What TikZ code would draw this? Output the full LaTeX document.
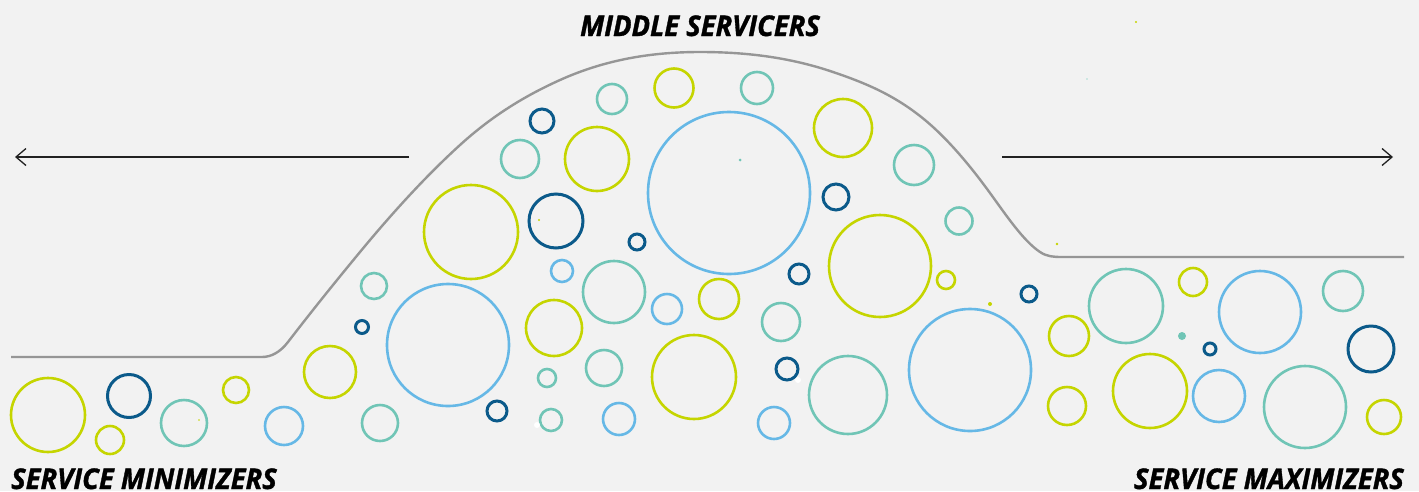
\documentclass[tikz,border=0pt]{standalone}
\usepackage{fontspec}
\setmainfont{Open Sans}
\newfontfamily\lblfont[FakeStretch=0.96,FakeBold=1.2]{Open Sans}
\usetikzlibrary{arrows.meta}

\definecolor{bgc}{HTML}{F2F2F2}
\definecolor{lime}{HTML}{C5D500}
\definecolor{teal}{HTML}{70C5B6}
\definecolor{sky}{HTML}{66B8E6}
\definecolor{navy}{HTML}{0B5A8A}
\definecolor{ridge}{HTML}{969696}
\definecolor{ink}{HTML}{222222}

\begin{document}
\begin{tikzpicture}[x=1pt,y=-1pt,
  ring/.style={line width=2.6pt},
  lring/.style={ring,draw=lime},
  tring/.style={ring,draw=teal},
  sring/.style={ring,draw=sky},
  nring/.style={line width=3pt,draw=navy},
  arr/.style={draw=ink,line width=1.3pt,-{Straight Barb[length=10pt,width=17pt,line width=1.3pt]}},
  lbl/.style={font=\lblfont\fontsize{28.5}{30}\selectfont\bfseries\itshape,text=black,inner sep=0pt}]

% canvas
\fill[bgc] (0,0) rectangle (1419,491);
\useasboundingbox (0,0) rectangle (1419,491);

% distribution curve: low plateau, broad hump, high plateau
\draw[ridge,line width=2.4pt,line join=round]
  (11,357) -- (262,357)
  .. controls (271,357) and (280,352.4) .. (288,342)
  .. controls (312,310.8) and (336,281) .. (360,252)
  .. controls (393.3,211.7) and (426.7,175.3) .. (460,145)
  .. controls (493.3,114.7) and (526.7,95) .. (560,80)
  .. controls (606.7,59) and (653.3,52) .. (700,52)
  .. controls (744.3,52) and (788.7,56.9) .. (833,72)
  .. controls (866.3,83.3) and (899.7,96.7) .. (933,127)
  .. controls (952,144.3) and (971,166.8) .. (990,193)
  .. controls (1006.7,216) and (1023.3,240.8) .. (1040,252)
  .. controls (1047,256.7) and (1054,257) .. (1062,257)
  -- (1404,257);

% direction arrows
\coordinate (lfrom) at (409,157);
\coordinate (lto) at (15,157);
\coordinate (rfrom) at (1002,157);
\coordinate (rto) at (1393,157);
\draw[arr] (lfrom) -- (lto);
\draw[arr] (rfrom) -- (rto);

% lime bubbles
\foreach \x/\y/\r in {48/415/37,110/440/14,236/390/13,330/372/26,471/232/47,
  597/159/32,674/88/19.5,843/128/29,880/266/51,946/280/9,554/328/28,
  719/299/20,694/377/42,1069/336/20,1193/282/14,1067/406/19,1150/391/37,
  1384/417/17}
  \draw[lring] (\x,\y) circle[radius=\r pt];

% teal bubbles
\foreach \x/\y/\r in {184/423/23,380/423/18,374/286/13,520/159/19,612/99/15,
  757/88/16,914/165/20,959/221/13.5,614/292/31,781/322/19,604/368/18,
  547/378/9,848/395/39,551/420/11,1126/306/37,1343/291/20,1305/407/41}
  \draw[tring] (\x,\y) circle[radius=\r pt];

% sky-blue bubbles
\foreach \x/\y/\r in {284/426/19,448/345/61,729/193/81,562/271/11,667/309/15,
  970/370/61,619/419/16,774/423/16,1260/312/41,1219/396/26}
  \draw[sring] (\x,\y) circle[radius=\r pt];

% navy bubbles
\foreach \x/\y/\r in {129/396/21.5,362/327/6.5,542/121/12,556/221/27,637/242/8,
  836/197/13,799/274/10,787/369/11,497/411/10,1029/294/8,1210/349/6,1371/349/23}
  \draw[nring] (\x,\y) circle[radius=\r pt];

% specks
\fill[teal] (740,160) circle[radius=1.5pt];
\fill[teal] (1182,336) circle[radius=4pt];
\fill[teal!60] (1087,79) circle[radius=0.8pt];
\fill[lime] (539,220) circle[radius=1.2pt];
\fill[lime] (1136,22) circle[radius=1.2pt];
\fill[lime] (1057,244) circle[radius=1.3pt];
\fill[lime] (990,304) circle[radius=2pt];
\fill[lime] (199,420) circle[radius=0.8pt];
\fill[white] (537,425) circle[radius=3pt];
\fill[white] (798,380) circle[radius=3pt];

% labels
\node[lbl,anchor=base] (mid) at (700,36) {MIDDLE SERVICERS};
\node[lbl,anchor=base west] (minz) at (11,489) {SERVICE MINIMIZERS};
\node[lbl,anchor=base east] (maxz) at (1404,489) {SERVICE MAXIMIZERS};
\end{tikzpicture}
\end{document}
